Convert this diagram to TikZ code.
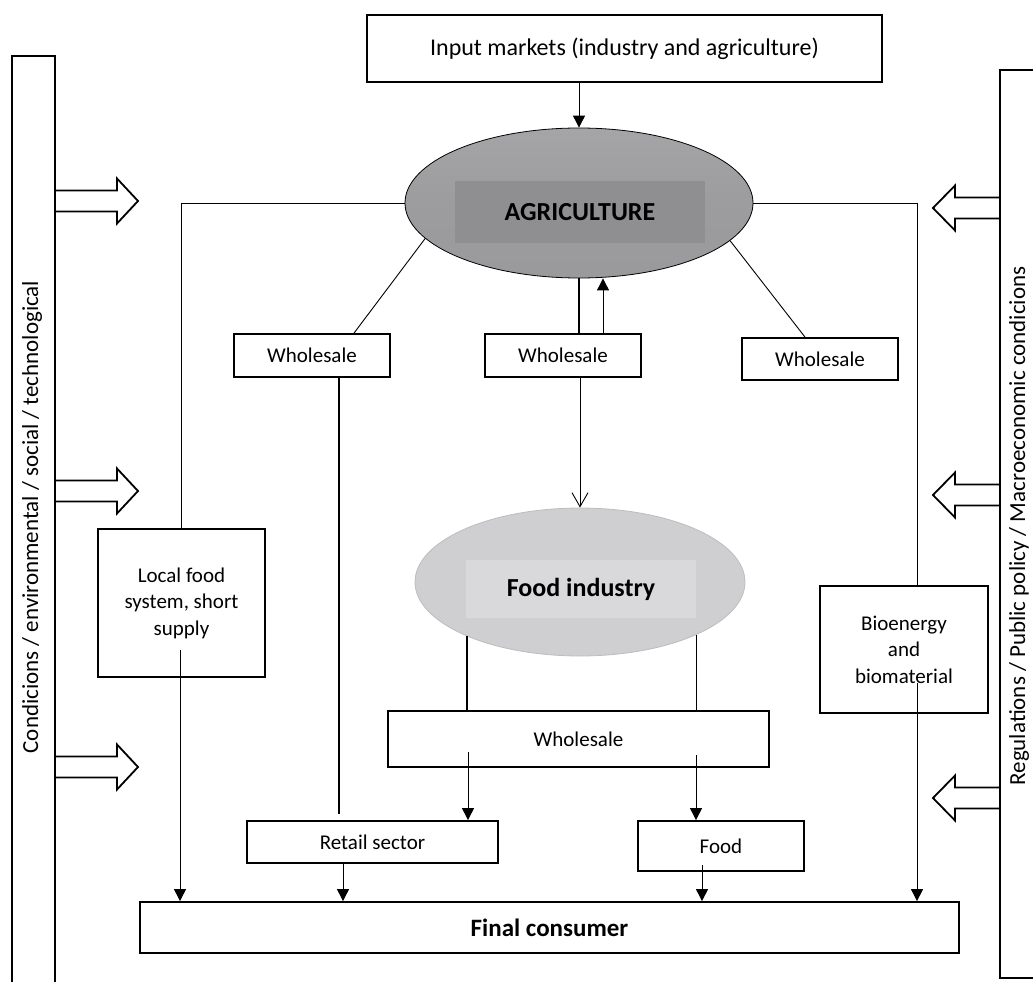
\documentclass[tikz,border=0pt]{standalone}
\usepackage{fontspec}
\setmainfont{Carlito}
\usetikzlibrary{
  arrows.meta,      % Triangle and barb tips
  calc,             % shifted anchor points
  positioning,      % relative placement
  shapes.geometric  % ellipse nodes
}
\definecolor{agrifill}{HTML}{A5A5A8}
\definecolor{agrishade}{HTML}{9A9A9D}
\definecolor{agriinner}{HTML}{8F8F92}
\definecolor{foodfill}{HTML}{CFCFD1}
\definecolor{foodinner}{HTML}{D9D9DB}
\definecolor{foodedge}{HTML}{BDBDC0}

\begin{document}
\begin{tikzpicture}[>=Stealth, x=1pt, y=-1pt,
    box/.style={draw, line width=1.8pt, inner sep=2pt, align=center,
      font=\fontsize{21}{26.5}\selectfont},
    side/.style={line width=1.8pt},
    sidelabel/.style={rotate=90, font=\fontsize{23}{27}\selectfont},
    link/.style={line width=0.9pt},
    thicklink/.style={line width=1.8pt},
    flow/.style={line width=0.9pt, -{Triangle[length=12pt, width=12pt]}},
    hollow/.style={draw, line width=1.8pt, line join=miter},
    title/.style={font=\bfseries\fontsize{26}{30}\selectfont, inner sep=0pt}
  ]
  \useasboundingbox (0,0) rectangle (1033,982);

  % side frames with their labels
  \draw[side] (12,1000) -- (12,56) -- (55,56) -- (55,1000);
  \draw[side] (1050,70) -- (1000,70) -- (1000,978) -- (1050,978);
  \node[sidelabel] (condlbl) at (32,517)
    {Condicions / environmental / social / technological};
  \node[sidelabel] (reglbl) at (1019,526)
    {Regulations / Public policy / Macroeconomic condicions};

  % hollow arrows from the left frame
  \draw[hollow] (55,190.5) -- ++(62,0) -- ++(0,-12) -- ++(21,22.5) -- ++(-21,22.5) -- ++(0,-12) -- ++(-62,0);
  \draw[hollow] (55,480.5) -- ++(62,0) -- ++(0,-12) -- ++(21,22.5) -- ++(-21,22.5) -- ++(0,-12) -- ++(-62,0);
  \draw[hollow] (55,756.5) -- ++(62,0) -- ++(0,-12) -- ++(21,22.5) -- ++(-21,22.5) -- ++(0,-12) -- ++(-62,0);

  % hollow arrows from the right frame
  \draw[hollow] (1000,197.5) -- ++(-45,0) -- ++(0,-12) -- ++(-22,22.5) -- ++(22,22.5) -- ++(0,-12) -- ++(45,0);
  \draw[hollow] (1000,484.5) -- ++(-45,0) -- ++(0,-12) -- ++(-22,22.5) -- ++(22,22.5) -- ++(0,-12) -- ++(45,0);
  \draw[hollow] (1000,787.5) -- ++(-45,0) -- ++(0,-12) -- ++(-22,22.5) -- ++(22,22.5) -- ++(0,-12) -- ++(45,0);

  % input markets and agriculture
  \node[box, minimum width=515pt, minimum height=67pt,
    font=\fontsize{24}{28}\selectfont] (input) at (624.5,48.5)
    {Input markets (industry and agriculture)};
  \node[ellipse, draw, line width=0.8pt, top color=agrifill, bottom color=agrishade,
    middle color=agrishade!80!agrifill, minimum width=348pt, minimum height=150pt,
    inner sep=0pt] (agri) at (579,203) {};
  \node[title, fill=agriinner, minimum width=250pt, minimum height=62pt]
    (agrilbl) at (580,212) {AGRICULTURE};

  % first wholesale row
  \node[box, minimum width=156pt, minimum height=43pt] (whL) at (312,355.5) {Wholesale};
  \node[box, minimum width=156pt, minimum height=43pt] (whM) at (563,355.5) {Wholesale};
  \node[box, minimum width=156pt, minimum height=42pt] (whR) at (820,359) {Wholesale};

  % side channels
  \node[box, minimum width=167pt, minimum height=148pt] (local) at (181.5,603)
    {Local food\\system, short\\supply};
  \node[box, minimum width=168pt, minimum height=127pt] (bio) at (904,649.5)
    {Bioenergy\\and\\biomaterial};

  % food industry
  \node[ellipse, fill=foodfill, draw=foodedge, line width=0.8pt,
    minimum width=330pt, minimum height=148pt, inner sep=0pt] (foodind) at (580,582) {};
  \node[title, fill=foodinner, minimum width=230pt, minimum height=58pt]
    (foodlbl) at (581,589) {Food industry};

  % lower boxes
  \node[box, minimum width=381pt, minimum height=56pt] (whB) at (578.5,739) {Wholesale};
  \node[box, minimum width=251pt, minimum height=42pt] (retail) at (372.5,842) {Retail sector};
  \node[box, minimum width=166pt, minimum height=50pt] (food) at (721,846) {Food};
  \node[box, minimum width=819pt, minimum height=51pt,
    font=\bfseries\fontsize{25}{30}\selectfont] (final) at (549.5,927.5) {Final consumer};

  % input markets down to agriculture
  \draw[flow] (agri.north |- input.south) -- (agri.north);

  % agriculture out to the side channels
  \coordinate (bioTop) at ($(bio.north)+(13,0)$);
  \draw[link] (agri.west) -| (local.north);
  \draw[link] (agri.east) -| (bioTop);

  % agriculture to the wholesale row
  \draw[link] (agri.193) -- ($(whL.north)+(42,0)$);
  \draw[link] (agri.346) -- ($(whR.north)+(-15,0)$);
  \draw[thicklink] (agri.south) -- (agri.south |- whM.north);
  \coordinate (upStart) at ($(agri.south |- whM.north)+(24,0)$);
  \draw[flow] (upStart) -- (upStart |- agri.south);

  % middle wholesale into food industry
  \draw[link, -{Straight Barb[length=14pt, width=16pt]}]
    (foodind.north |- whM.south) -- (foodind.north);

  % left wholesale down to retail
  \coordinate (whLout) at ($(whL.south)+(27,0)$);
  \draw[thicklink] (whLout) -- ($(whLout |- retail.north)+(0,-6)$);

  % food industry to the lower wholesale
  \coordinate (fiL) at ($(foodind.center)+(-113,54)$);
  \coordinate (fiR) at ($(foodind.center)+(116,53)$);
  \draw[thicklink] (fiL) -- (fiL |- whB.north);
  \draw[link] (fiR) -- (fiR |- whB.north);

  % lower wholesale to retail and food
  \coordinate (whBL) at ($(whB.center)+(-110.5,13)$);
  \coordinate (whBR) at ($(whB.center)+(117.5,16)$);
  \draw[flow] (whBL) -- (whBL |- retail.north);
  \draw[flow] (whBR) -- (whBR |- food.north);

  % everything into the final consumer
  \coordinate (localOut) at ($(local.center)+(-1.5,47)$);
  \coordinate (retailOut) at ($(retail.south)+(-29.5,0)$);
  \coordinate (foodOut) at ($(food.center)+(-19,19)$);
  \coordinate (bioOut) at ($(bio.center)+(13,33)$);
  \draw[flow] (localOut) -- (localOut |- final.north);
  \draw[flow] (retailOut) -- (retailOut |- final.north);
  \draw[flow] (foodOut) -- (foodOut |- final.north);
  \draw[flow] (bioOut) -- (bioOut |- final.north);
\end{tikzpicture}
\end{document}
